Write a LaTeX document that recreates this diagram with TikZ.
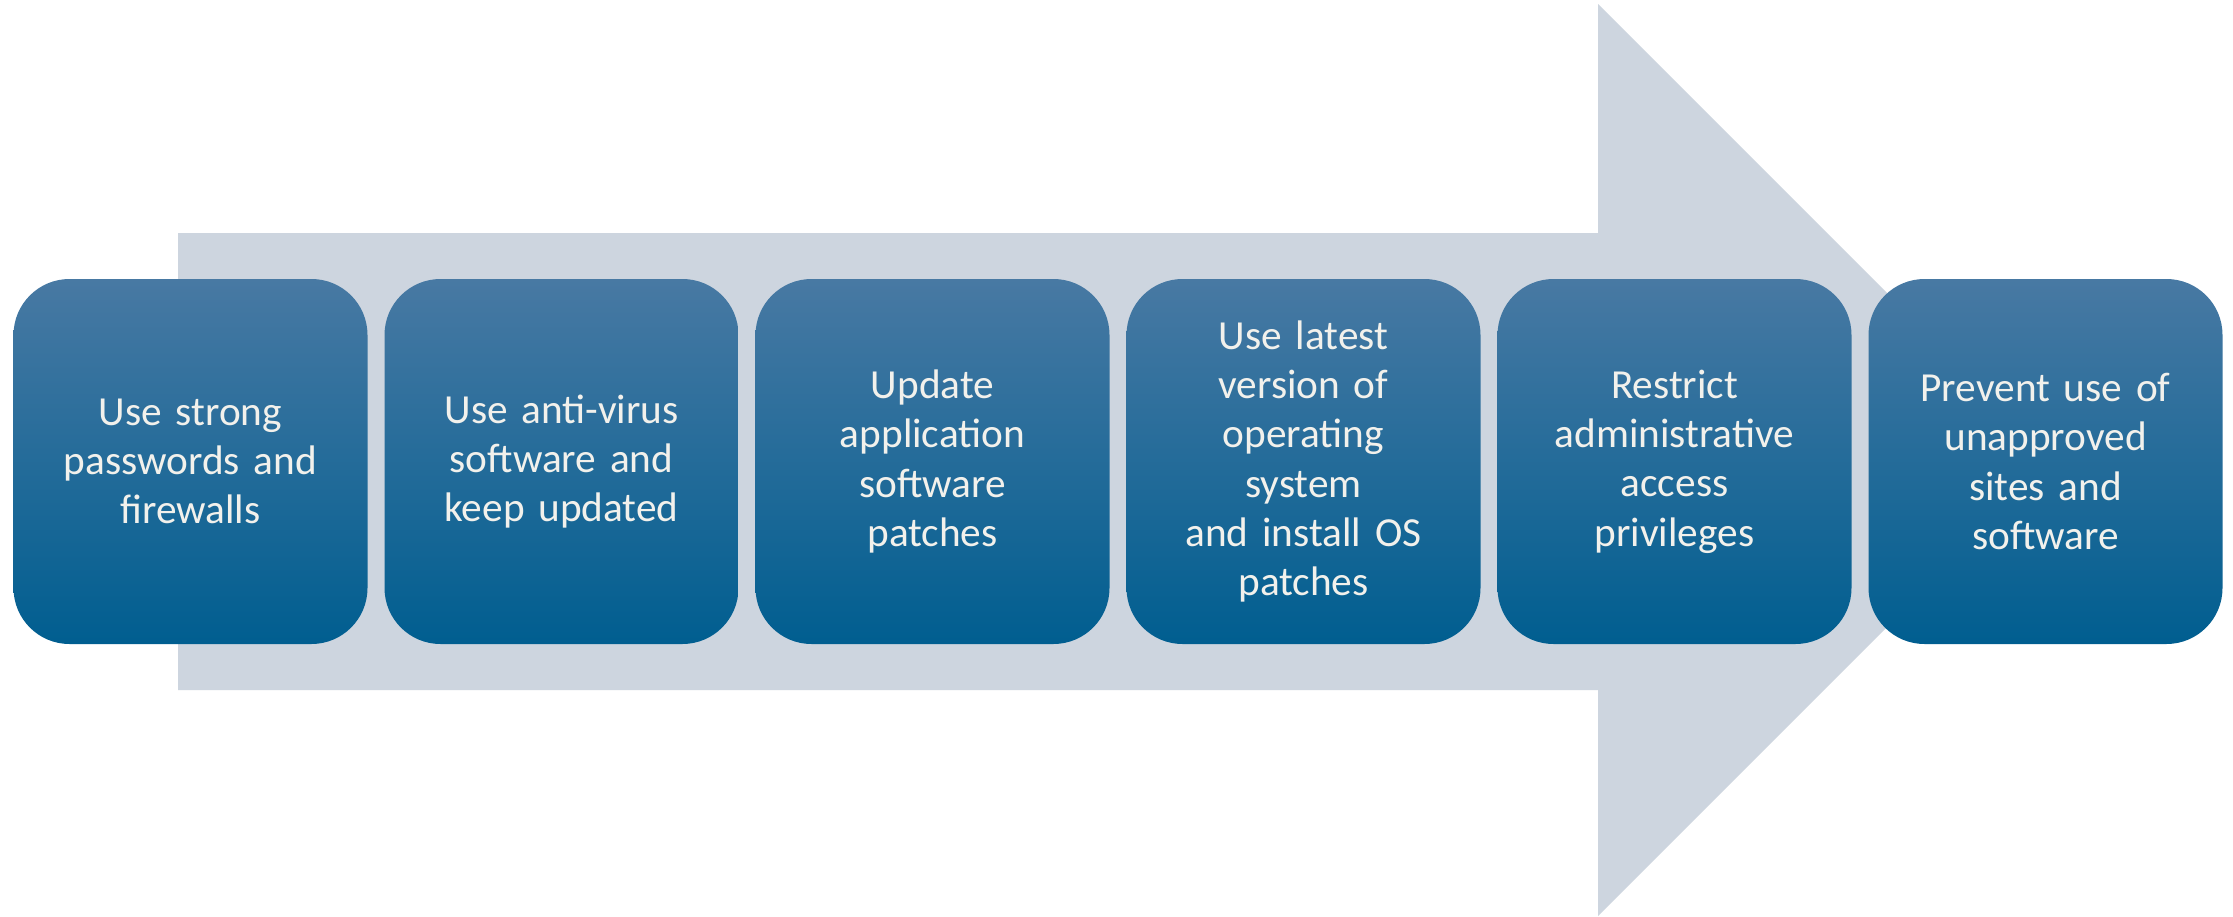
\documentclass[tikz,border=0pt]{standalone}
\usepackage{fontspec}
\setmainfont{Carlito}
\definecolor{arrowgray}{HTML}{CDD5DF}
\definecolor{boxtop}{HTML}{4879A3}
\definecolor{boxmid}{HTML}{046A9F}
\definecolor{boxbot}{HTML}{005E90}
\definecolor{txt}{HTML}{F2F1EC}
\begin{document}
\begin{tikzpicture}[x=1pt,y=-1pt,
  stepbox/.style={rounded corners=56pt, minimum width=354pt, minimum height=365pt,
    inner sep=0pt, top color=boxtop, middle color=boxmid, bottom color=boxbot,
    text=txt, align=center, font=\fontsize{41.3}{49.3}\selectfont, text width=345pt}]
\useasboundingbox[fill=white] (0,0) rectangle (2233,916);
\fill[arrowgray] (178,233) -- (1598,233) -- (1598,4) -- (2054,460) -- (1598,916) -- (1598,690) -- (178,690) -- cycle;
\node[stepbox] (b1) at (190.5,461.5) {Use strong\\passwords and\\firewalls};
\node[stepbox] (b2) at (561.5,461.5) {Use anti-virus\\software and\\keep updated};
\node[stepbox] (b3) at (932.5,461.5) {Update\\application\\software\\patches};
\node[stepbox] (b4) at (1303.5,461.5) {Use latest\\version of\\operating\\system\\and install OS\\patches};
\node[stepbox] (b5) at (1674.5,461.5) {Restrict\\administrative\\access\\privileges};
\node[stepbox] (b6) at (2045.5,461.5) {Prevent use of\\unapproved\\sites and\\software};
\end{tikzpicture}
\end{document}
